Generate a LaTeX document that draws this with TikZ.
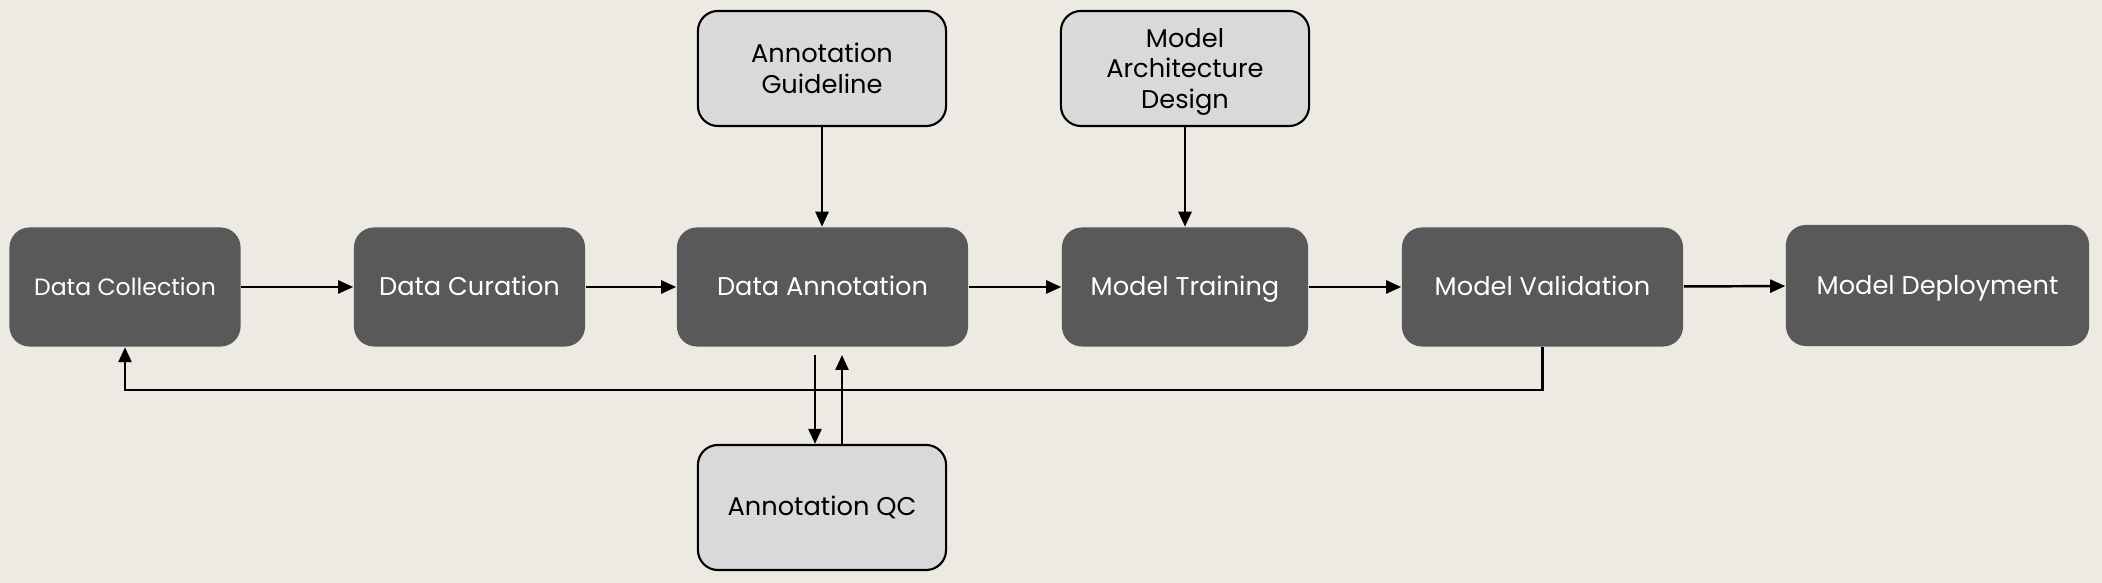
\documentclass[tikz,border=0pt]{standalone}
\usepackage{fontspec}
\setmainfont{Poppins}
\usetikzlibrary{arrows.meta}
\definecolor{bgcol}{HTML}{EDEAE4}
\definecolor{darkbox}{HTML}{595959}
\definecolor{lightbox}{HTML}{D9D9D9}

\begin{document}
\begin{tikzpicture}[x=0.01cm,y=-0.01cm,
  stage/.style={fill=darkbox,text=white,rounded corners=0.2cm,minimum height=1.19cm,align=center,text height=1.3ex,text depth=.4ex,font=\fontsize{7.3}{8.8}\selectfont},
  side/.style={fill=lightbox,draw=black,line width=0.6pt,text=black,rounded corners=0.2cm,minimum width=2.48cm,minimum height=1.15cm,align=center,font=\fontsize{7.3}{8.8}\selectfont},
  arr/.style={-{Triangle[length=0.15cm,width=0.13cm]},line width=0.7pt}]
\fill[bgcol] (0,0) rectangle (2102,583);
\node[stage,minimum width=2.31cm,font=\fontsize{6.7}{8}\selectfont] (dc) at (125,287) {Data Collection};
\node[stage,minimum width=2.31cm] (cur) at (469.5,287) {Data Curation};
\node[stage,minimum width=2.91cm] (ann) at (822.5,287) {Data Annotation};
\node[stage,minimum width=2.46cm] (trn) at (1185,287) {Model Training};
\node[stage,minimum width=2.81cm] (val) at (1542.5,287) {Model Validation};
\node[stage,minimum width=3.03cm,minimum height=1.21cm] (dep) at (1937.5,285.5) {Model Deployment};
\node[side] (gl) at (822,68.5) {Annotation\\Guideline};
\node[side,text depth=0pt] (mad) at (1185,68.5) {Model\\Architecture\\Design};
\node[side,minimum height=1.25cm] (qc) at (822,507.5) {Annotation QC};
\coordinate (down) at (815,355);
\coordinate (up) at (842,355);
\draw[arr] (dc) -- (cur);
\draw[arr] (cur) -- (ann);
\draw[arr] (ann) -- (trn);
\draw[arr] (trn) -- (val);
\draw[arr] (val) -- (dep);
\draw[arr] (gl) -- (gl |- ann.north);
\draw[arr] (mad) -- (trn);
\draw[arr] (down) -- (down |- qc.north);
\draw[arr] (up |- qc.north) -- (up);
\draw[arr] (val.south) -- ++(0,43) -| (dc.south);
\end{tikzpicture}
\end{document}
